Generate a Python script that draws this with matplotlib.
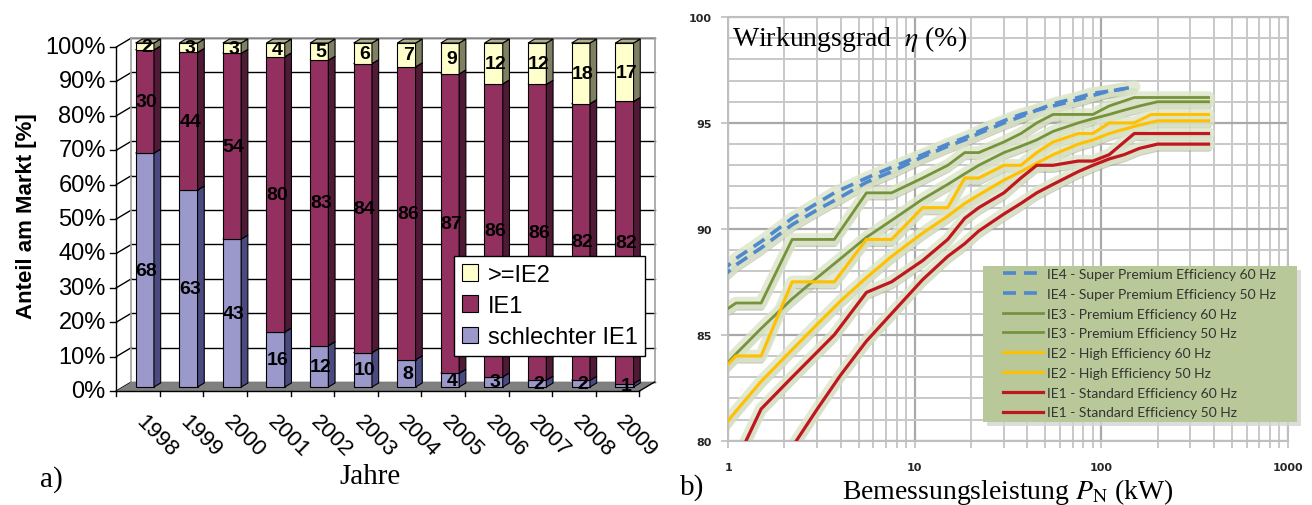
import matplotlib
matplotlib.use('Agg')
import matplotlib.pyplot as plt
import matplotlib.patheffects as pe
from matplotlib.patches import Patch, Polygon, Rectangle

plt.rcParams['mathtext.fontset'] = 'stix'

# ---------------- data: a) market shares ----------------
years = ['1998', '1999', '2000', '2001', '2002', '2003',
         '2004', '2005', '2006', '2007', '2008', '2009']
schlechter_ie1 = [68, 63, 43, 16, 12, 10, 8, 4, 3, 2, 2, 1]
ie1 = [30, 44, 54, 80, 83, 84, 86, 87, 86, 86, 82, 82]
ie2_plus = [2, 3, 3, 4, 5, 6, 7, 9, 12, 12, 18, 17]

# ---------------- data: b) efficiency classes ----------------
p50 = [0.75, 1.1, 1.5, 2.2, 3, 4, 5.5, 7.5, 11, 15, 18.5, 22, 30, 37, 45, 55,
       75, 90, 110, 132, 160, 200, 250, 315, 355, 375]
p60 = [0.75, 1.1, 1.5, 2.2, 3.7, 5.5, 7.5, 11, 15, 18.5, 22, 30, 37, 45, 55,
       75, 90, 110, 150, 185, 220, 250, 300, 335, 375]
ie1_50 = [72.1, 75.0, 77.2, 79.7, 81.5, 83.1, 84.7, 86.0, 87.6, 88.7, 89.3, 89.9,
          90.7, 91.2, 91.7, 92.1, 92.7, 93.0, 93.3, 93.5, 93.8, 94.0, 94.0, 94.0, 94.0, 94.0]
ie2_50 = [79.6, 81.4, 82.8, 84.3, 85.5, 86.6, 87.7, 88.7, 89.8, 90.6, 91.2, 91.6,
          92.3, 92.7, 93.1, 93.5, 94.0, 94.2, 94.5, 94.7, 94.9, 95.1, 95.1, 95.1, 95.1, 95.1]
ie3_50 = [82.5, 84.1, 85.3, 86.7, 87.7, 88.6, 89.6, 90.4, 91.4, 92.1, 92.6, 93.0,
          93.6, 93.9, 94.2, 94.6, 95.0, 95.2, 95.4, 95.6, 95.8, 96.0, 96.0, 96.0, 96.0, 96.0]
ie1_60 = [78.0, 79.0, 81.5, 83.0, 85.0, 87.0, 87.5, 88.5, 89.5, 90.5, 91.0, 91.7,
          92.4, 93.0, 93.0, 93.2, 93.2, 93.5, 94.5, 94.5, 94.5, 94.5, 94.5, 94.5, 94.5]
ie2_60 = [82.5, 84.0, 84.0, 87.5, 87.5, 89.5, 89.5, 91.0, 91.0, 92.4, 92.4, 93.0,
          93.0, 93.6, 94.1, 94.5, 94.5, 95.0, 95.0, 95.4, 95.4, 95.4, 95.4, 95.4, 95.4]
ie3_60 = [85.5, 86.5, 86.5, 89.5, 89.5, 91.7, 91.7, 92.4, 93.0, 93.6, 93.6, 94.1,
          94.5, 95.0, 95.4, 95.4, 95.4, 95.8, 96.2, 96.2, 96.2, 96.2, 96.2, 96.2, 96.2]
p4_50 = [0.75, 1.1, 1.5, 2.2, 3, 4, 5.5, 7.5, 11, 15, 18.5, 22, 30, 37, 45, 55,
         75, 90, 110, 132]
ie4_50 = [87.0, 88.3, 89.1, 90.2, 90.9, 91.5, 92.2, 92.7, 93.4, 93.9, 94.2, 94.5,
          95.0, 95.3, 95.6, 95.8, 96.1, 96.3, 96.5, 96.6]
p4_60 = [0.75, 1.1, 1.5, 2.2, 3.7, 5.5, 7.5, 11, 15, 18.5, 22, 30, 37, 45, 55,
         75, 90, 110, 150]
ie4_60 = [87.3, 88.6, 89.4, 90.5, 91.7, 92.4, 92.9, 93.5, 94.0, 94.3, 94.6, 95.1,
          95.4, 95.6, 95.9, 96.2, 96.4, 96.5, 96.7]

fig = plt.figure(figsize=(13.12, 5.06), dpi=100)
W, H = 1312, 506

# ================= a) 3D-like stacked 100% columns =================
axL = fig.add_axes([0, 0, 690 / W, 1])
axL.set_xlim((0 - 144.8) / 43.6, (690 - 144.8) / 43.6)
axL.set_ylim((388 - 506) / 3.44, 388 / 3.44)
axL.axis('off')

DX, DY = 0.1537, 1.163          # shift per unit depth
D_FRONT, D_BACK = -1.0, 1.24
X0, X1 = -0.5, len(years) - 0.5
bw = 0.21


def pr(x, y, d):
    return (x + d * DX, y + d * DY)


# back wall + side wall grid
wall = Polygon([pr(X0, 0, D_BACK), pr(X1, 0, D_BACK), pr(X1, 100, D_BACK), pr(X0, 100, D_BACK)],
               closed=True, facecolor='white', edgecolor='none', zorder=0.5)
axL.add_patch(wall)
for v in range(0, 101, 10):
    a, b = pr(X0, v, D_BACK), pr(X1, v, D_BACK)
    axL.plot([a[0], b[0]], [a[1], b[1]], color='black', lw=1, zorder=1)
    c = pr(X0, v, D_FRONT)
    axL.plot([c[0], a[0]], [c[1], a[1]], color='black', lw=1, zorder=1)
for x in (X0, X1):
    a, b = pr(x, 0, D_BACK), pr(x, 100, D_BACK)
    axL.plot([a[0], b[0]], [a[1], b[1]], color='#a0a0a0', lw=1.2, zorder=1.1)
a, b = pr(X0, 100, D_BACK), pr(X1, 100, D_BACK)
axL.plot([a[0], b[0]], [a[1], b[1]], color='#a0a0a0', lw=1.2, zorder=1.1)

# floor
floor = Polygon([pr(X0, 0, D_FRONT), pr(X1, 0, D_FRONT), pr(X1, 0, D_BACK), pr(X0, 0, D_BACK)],
                closed=True, facecolor='#808080', edgecolor='none', zorder=1.5)
axL.add_patch(floor)
a, b = pr(X1, 0, D_FRONT), pr(X1, 0, D_BACK)
axL.plot([a[0], b[0]], [a[1], b[1]], color='black', lw=1, zorder=1.6)

series = [(schlechter_ie1, '#9b98cb', '#4b4a80', '#6f6da5'),
          (ie1, '#923160', '#4f1a36', '#6e2447'),
          (ie2_plus, '#ffffcc', '#7f7f63', '#b0b090')]

for i in range(len(years)):
    total = schlechter_ie1[i] + ie1[i] + ie2_plus[i]
    bottom = 0.0
    for vals, fc, sc, tc in series:
        h = vals[i] / total * 100
        top = bottom + h
        axL.bar(i, h, bottom=bottom, width=2 * bw, color=fc, edgecolor='black', lw=0.8, zorder=2)
        side = Polygon([pr(i + bw, bottom, 0), pr(i + bw, bottom, 1), pr(i + bw, top, 1), pr(i + bw, top, 0)],
                       closed=True, facecolor=sc, edgecolor='black', lw=0.8, zorder=2)
        axL.add_patch(side)
        cap = Polygon([pr(i - bw, top, 0), pr(i + bw, top, 0), pr(i + bw, top, 1), pr(i - bw, top, 1)],
                      closed=True, facecolor=tc, edgecolor='black', lw=0.8, zorder=2)
        axL.add_patch(cap)
        axL.text(i + 0.04, bottom + h / 2, str(vals[i]), ha='center', va='center',
                 fontsize=14, fontweight='bold', family='Liberation Sans', zorder=5)
        bottom = top

# front axes lines, ticks, labels
a, b = pr(X0, 0, D_FRONT), pr(X0, 100, D_FRONT)
axL.plot([a[0], b[0]], [a[1], b[1]], color='black', lw=1, zorder=3)
for v in range(0, 101, 10):
    a = pr(X0, v, D_FRONT)
    axL.plot([a[0] - 0.14, a[0]], [a[1], a[1]], color='black', lw=1, zorder=3)
    axL.text(a[0] - 0.24, a[1], f'{v}%', ha='right', va='center', fontsize=17,
             family='Liberation Sans')
a, b = pr(X0, 0, D_FRONT), pr(X1, 0, D_FRONT)
axL.plot([a[0], b[0]], [a[1], b[1]], color='black', lw=1, zorder=3)
for k in range(len(years) + 1):
    a = pr(X0 + k, 0, D_FRONT)
    axL.plot([a[0], a[0]], [a[1], a[1] - 1.5], color='black', lw=1, zorder=3)
for i, yr in enumerate(years):
    axL.text(i + 0.05, -7.0, yr, rotation=-45, rotation_mode='anchor', ha='left', va='top',
             fontsize=16, family='Liberation Sans')

handles = [Patch(facecolor='#ffffcc', edgecolor='black', lw=0.8),
           Patch(facecolor='#923160', edgecolor='black', lw=0.8),
           Patch(facecolor='#9b98cb', edgecolor='black', lw=0.8)]
legL = axL.legend(handles, ['>=IE2', 'IE1', 'schlechter IE1'], loc='upper left',
                  bbox_to_anchor=(454 / W, 1 - 257 / H), bbox_transform=fig.transFigure,
                  prop={'family': 'Liberation Sans', 'size': 17}, frameon=True, fancybox=False,
                  edgecolor='black', framealpha=1, handlelength=0.7, handleheight=0.7,
                  handletextpad=0.4, labelspacing=0.4, borderpad=0.32, borderaxespad=0)
legL.get_frame().set_linewidth(1)

fig.text(27 / W, 1 - 216 / H, 'Anteil am Markt [%]', rotation=90, ha='center', va='center',
         fontsize=16, fontweight='bold', family='Liberation Sans')
fig.text(370 / W, 1 - 477 / H, 'Jahre', ha='center', va='center', fontsize=21, family='Liberation Serif')
fig.text(51 / W, 1 - 480 / H, 'a)', ha='center', va='center', fontsize=21, family='Liberation Serif')

# ================= b) efficiency curves =================
axR = fig.add_axes([728.3 / W, (H - 441.7) / H, (1288 - 728.3) / W, (441.7 - 18) / H])
axR.set_xscale('log')
axR.set_xlim(1, 1000)
axR.set_ylim(80, 100)
axR.set_xticks([1, 10, 100, 1000], labels=['1', '10', '100', '1000'])
axR.set_yticks([80, 85, 90, 95, 100])
axR.set_yticks(range(80, 101), minor=True)
axR.xaxis.set_minor_formatter(matplotlib.ticker.NullFormatter())
axR.grid(which='major', color='#a9a9a9', lw=1.6)
axR.grid(which='minor', color='#c8c8c8', lw=1.4)
axR.set_axisbelow(True)
for s in axR.spines.values():
    s.set_color('#bfbfbf')
    s.set_linewidth(1.5)
axR.tick_params(axis='x', which='both', direction='out', length=5, color='#bfbfbf', width=1.2,
                pad=10, labelsize=8)
axR.tick_params(axis='y', which='major', direction='out', length=5, color='#bfbfbf', width=1.2,
                pad=7, labelsize=8)
axR.tick_params(axis='y', which='minor', length=0)
for lab in axR.get_xticklabels() + axR.get_yticklabels():
    lab.set_fontweight('bold')
    lab.set_color('#262626')

curves = [
    (p4_60, ie4_60, '#4f88cc', 2.6, 'IE4 - Super Premium Efficiency 60 Hz', True),
    (p4_50, ie4_50, '#4f88cc', 2.6, 'IE4 - Super Premium Efficiency 50 Hz', True),
    (p60, ie3_60, '#76933c', 2.0, 'IE3 - Premium Efficiency 60 Hz', False),
    (p50, ie3_50, '#76933c', 2.0, 'IE3 - Premium Efficiency 50 Hz', False),
    (p60, ie2_60, '#ffc000', 2.2, 'IE2 - High Efficiency 60 Hz', False),
    (p50, ie2_50, '#ffc000', 2.2, 'IE2 - High Efficiency 50 Hz', False),
    (p60, ie1_60, '#c0161f', 2.3, 'IE1 - Standard Efficiency 60 Hz', False),
    (p50, ie1_50, '#c0161f', 2.3, 'IE1 - Standard Efficiency 50 Hz', False),
]

# soft glow + shadow under every curve (Excel style)
glow_fx = [pe.SimpleLineShadow(offset=(0, -3), shadow_color='#97a083', alpha=0.5, rho=1, linewidth=5),
           pe.Normal()]
for p, v, c, lw, lab, dashed in curves:
    axR.plot(p, v, color='#dce5c9', lw=9, alpha=0.8, solid_capstyle='round',
             solid_joinstyle='round', zorder=2, path_effects=glow_fx)

line_handles = []
for p, v, c, lw, lab, dashed in curves:
    if dashed:
        ln, = axR.plot(p, v, color=c, lw=lw, dashes=(3.6, 2.2), zorder=3, label=lab)
    else:
        ln, = axR.plot(p, v, color=c, lw=lw, zorder=3, label=lab)
    line_handles.append(ln)

axR.text(0.006, 0.985, r'Wirkungsgrad  $\eta$ (%)', transform=axR.transAxes, ha='left', va='top',
         fontsize=20, family='Liberation Serif', zorder=6)

# legend box with shadow
fig.patches.append(Rectangle((987 / W, 1 - 427 / H), 314 / W, 156 / H, transform=fig.transFigure,
                             facecolor='#d4d4d4', edgecolor='none', alpha=0.8, zorder=5))
fig.patches.append(Rectangle((983 / W, 1 - 423 / H), 314 / W, 156 / H, transform=fig.transFigure,
                             facecolor='#b9c898', edgecolor='none', zorder=5.5))
legR = fig.legend(handles=line_handles, loc='upper left', bbox_to_anchor=(1003 / W, 1 - 269 / H),
                  bbox_transform=fig.transFigure, frameon=False,
                  prop={'family': 'Lato', 'size': 10}, labelcolor='#333333', handlelength=2.9,
                  handletextpad=0.3, labelspacing=0.56, borderpad=0, borderaxespad=0)
legR.set_zorder(6)

fig.text(1008 / W, 1 - 492 / H, r'Bemessungsleistung $P_{\mathrm{N}}$ (kW)', ha='center', va='center',
         fontsize=20, family='Liberation Serif')
fig.text(692 / W, 1 - 488 / H, 'b)', ha='center', va='center', fontsize=21, family='Liberation Serif')

fig.savefig('out.png', dpi=100)
